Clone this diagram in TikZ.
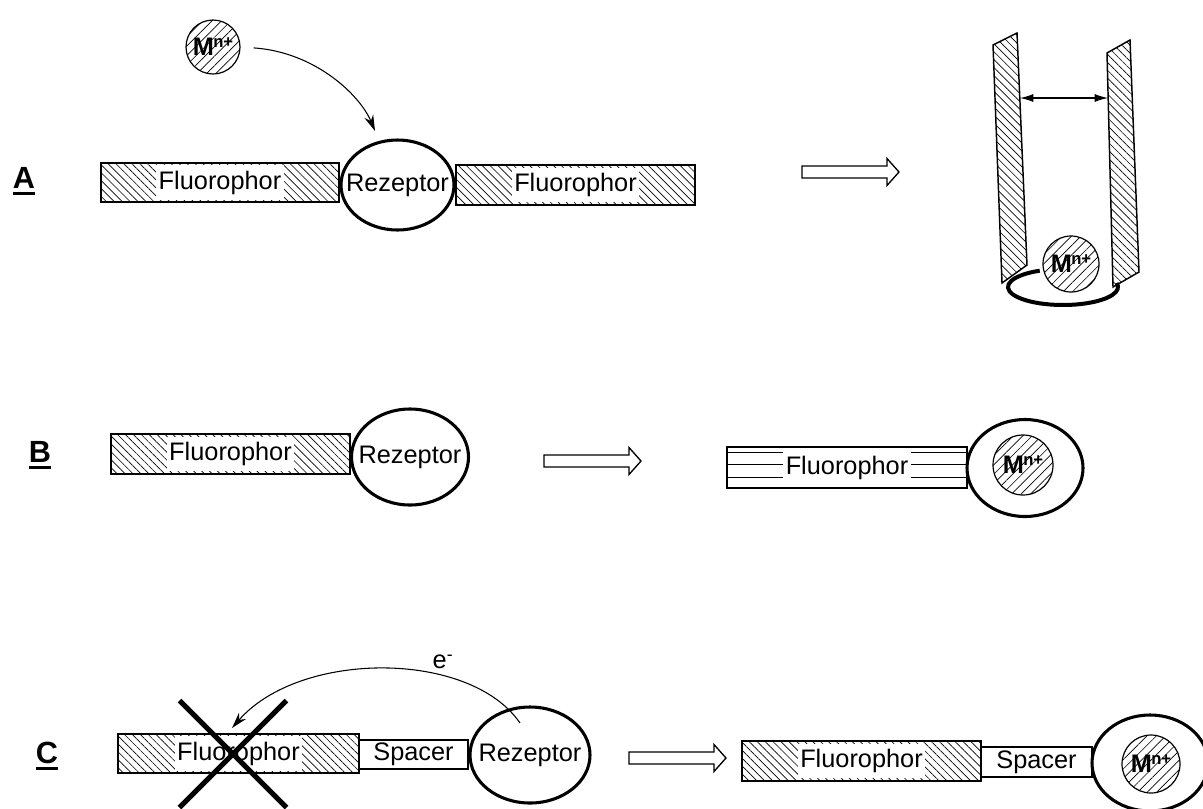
\documentclass[tikz,border=0pt]{standalone}
\usepackage{fontspec}
\setmainfont{Liberation Sans}
\usetikzlibrary{arrows.meta, patterns.meta, shapes.geometric, shapes.misc}
\usetikzlibrary{positioning}

\newcommand{\undl}[1]{\setbox0\hbox{#1}\rlap{\rule[-5pt]{\wd0}{2.4pt}}\box0}
\newcommand{\Mion}{\fontsize{19}{19}\selectfont\bfseries M\kern-0.5pt\raisebox{6pt}{\fontsize{12.5}{12.5}\selectfont n+}}

\tikzset{
	hatch/.style={pattern={Lines[angle=-45,distance=4.2pt,line width=0.5pt]}},
	ionhatch/.style={pattern={Lines[angle=45,distance=5pt,line width=0.5pt]}},
	box/.style={draw, line width=1.1pt, inner sep=0pt},
	fluo/.style={box, hatch, minimum width=180pt, minimum height=30pt},
	fluotext/.style={fill=white, inner xsep=2pt, inner ysep=0pt, minimum height=26pt},
	rez/.style={ellipse, draw, line width=2.3pt, fill=white, inner sep=0pt},
	ion/.style={circle, draw, line width=0.9pt, preaction={fill=white}, ionhatch, minimum size=40.5pt, inner sep=0pt},
	lab/.style={font=\fontsize{23}{25}\selectfont\bfseries},
	wall/.style={draw, line width=1.1pt, hatch},
	bind/.style={-{Stealth[length=12pt,width=7pt]}, line width=0.8pt}
}

\begin{document}
\begin{tikzpicture}[x=0.75pt, y=-0.75pt, every node/.style={font=\fontsize{19}{22}\selectfont}]
	\useasboundingbox (0,0) rectangle (1203,808);

	% A
	\node[lab] (labA) at (24,181) {\undl{A}};
	\node[fluo, minimum width=178.5pt, minimum height=29.25pt] (fluoA1) at (220,182.5) {};
	\node[fluotext] (txtA1) at (fluoA1) {Fluorophor};
	\node[fluo, minimum width=179.25pt] (fluoA2) at (575.5,185) {};
	\node[fluotext] (txtA2) at (fluoA2) {Fluorophor};
	\node[rez, minimum width=84.75pt, minimum height=67.5pt] (rezA) at (397.5,185) {};
	\node (rezAtxt) at (rezA) {Rezeptor};
	\node[ion] (ionA) at (213,47) {\Mion};
	\coordinate (tipA) at (375,131);
	\draw[bind, shorten <=10pt] (ionA.east) .. controls (315,52) and (360,95) .. (tipA);

	% hollow arrows
	\foreach \ax/\ay in {802/172, 544/461, 629/758}
		\draw[line width=1pt] (\ax,\ay-6) -- ++(85,0) -- ++(0,-7.5) -- ++(12,13.5) -- ++(-12,13.5) -- ++(0,-7.5) -- ++(-85,0) -- cycle;

	% folded
	\draw[wall] (993,45) -- (1017,33) -- (1027,265) -- (1002,283) -- cycle;
	\draw[wall] (1107,53) -- (1130,40) -- (1139,272) -- (1113,287) -- cycle;
	\coordinate (gapL) at (1020,98);
	\coordinate (gapR) at (1108,98);
	\draw[{Latex[length=10pt,width=6pt]}-{Latex[length=10pt,width=6pt]}, line width=0.8pt] (gapL) -- (gapR);
	\draw[line width=3pt] (1063,287) ++(-115:55 and 18) arc[start angle=-115, end angle=-373, x radius=55, y radius=18];
	\node[ion, minimum size=42pt] (ionT) at (1071,264) {\Mion};

	% B
	\node[lab] (labB) at (40,455) {\undl{B}};
	\node[fluo, minimum width=179.25pt] (fluoB) at (230.5,454) {};
	\node[fluotext] (txtB) at (fluoB) {Fluorophor};
	\node[rez, minimum width=87.75pt, minimum height=72pt] (rezB) at (410,457) {};
	\node (rezBtxt) at (rezB) {Rezeptor};

	\node[box, fill=white, minimum width=180pt, minimum height=30.75pt] (fluoB2) at (847,467.5) {};
	\foreach \sy in {452,464.5,477}
		\draw[line width=0.5pt] (727,\sy) -- (967,\sy);
	\node[fluotext] (txtB2) at (fluoB2) {Fluorophor};
	\node[rez, minimum width=87pt, minimum height=72.75pt] (rezB2) at (1025,468) {};
	\node[ion, minimum size=45pt] (ionB) at (1023,465) {\Mion};

	% C
	\node[lab] (labC) at (47,756) {\undl{C}};
	\node[fluo, minimum width=180.75pt, minimum height=29.25pt] (fluoC) at (238.5,753.5) {};
	\node[fluotext] (txtC) at (fluoC) {Fluorophor};
	\node[box, fill=white, minimum width=81.75pt, minimum height=21.75pt] (spcC) at (413.5,754.5) {Spacer};
	\node[rez, minimum width=90pt, minimum height=72pt] (rezC) at (530,755) {};
	\node (rezCtxt) at (rezC) {Rezeptor};
	\node[cross out, draw, line width=3.75pt, minimum width=76.5pt, minimum height=76.5pt] (xC) at (233,754) {};
	\coordinate (srcC) at (520,723);
	\coordinate (tipC) at (232,728);
	\draw[bind] (srcC) .. controls (470,650) and (300,650) .. (tipC);
	\node (eC) at (443,662) {e\textsuperscript{-}};

	\node[fluo, minimum width=179.25pt] (fluoC2) at (861.5,761) {};
	\node[fluotext] (txtC2) at (fluoC2) {Fluorophor};
	\node[box, fill=white, minimum width=83.25pt, minimum height=22.5pt] (spcC2) at (1036.5,762) {Spacer};
	\node[rez, minimum width=87pt, minimum height=72pt] (rezC2) at (1150,763) {};
	\node[ion, minimum size=43.5pt] (ionC) at (1151,764) {\Mion};
\end{tikzpicture}
\end{document}
